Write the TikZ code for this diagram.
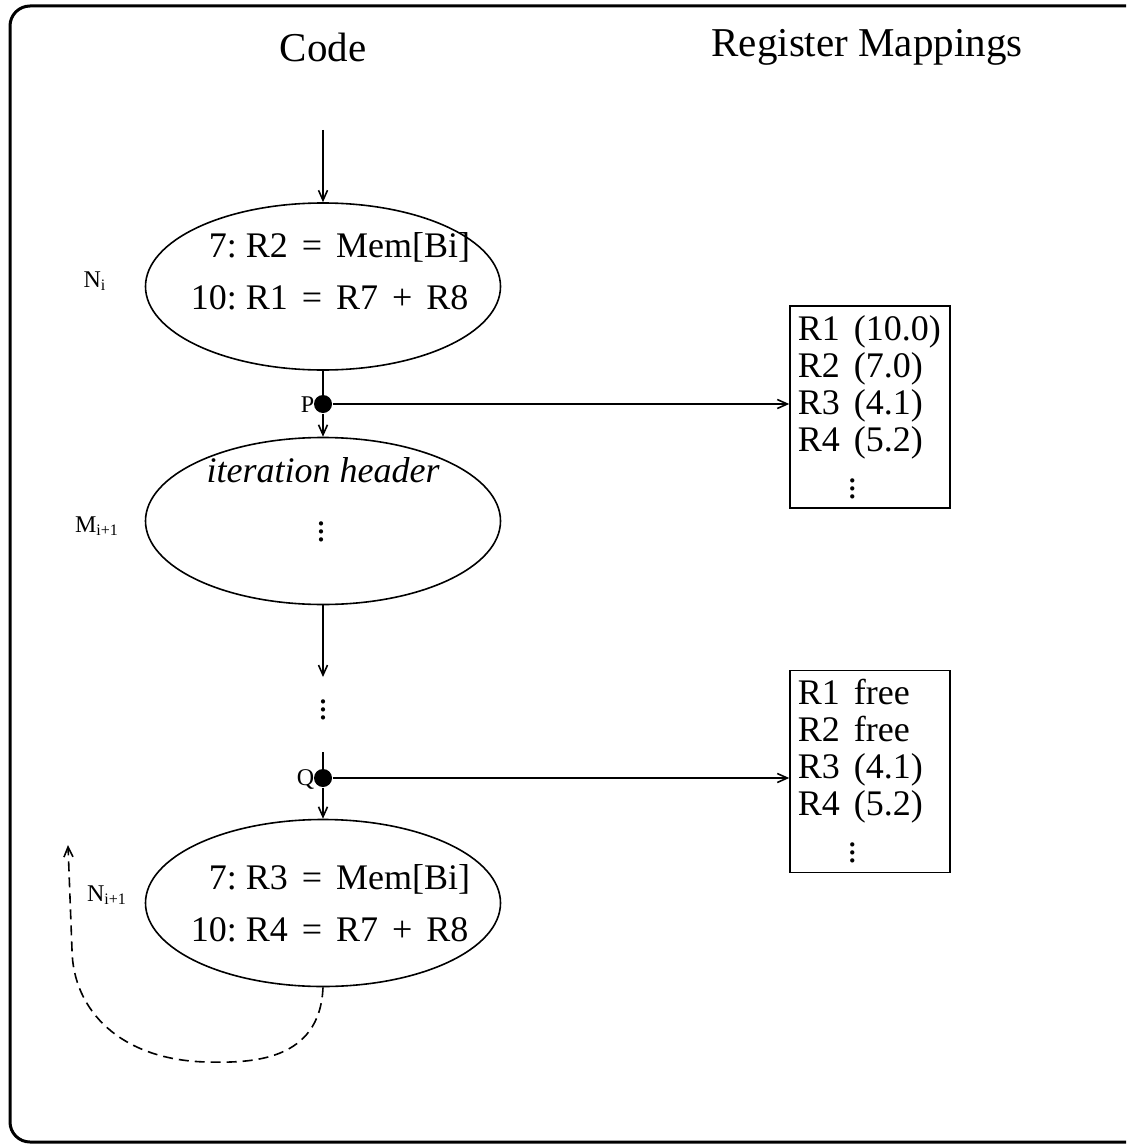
\documentclass[tikz,border=0pt]{standalone}
\usepackage{fontspec}
\setmainfont{Liberation Serif}
\usetikzlibrary{shapes.geometric,arrows.meta}
\newcommand{\op}[1]{\hspace{7pt}#1\hspace{7pt}}
\newcommand{\moredots}{\multicolumn{2}{@{}l@{}}{\hspace{25pt}$\vdots$}}
\begin{document}
\begin{tikzpicture}[x=0.5pt,y=-0.5pt,
  line width=0.8pt,
  arr/.style={-{Straight Barb[length=5pt,width=4.5pt]}},
  block/.style={draw,ellipse,minimum width=177.5pt,minimum height=83.5pt,inner sep=0pt},
  regbox/.style={draw,rectangle,minimum width=80pt,minimum height=101pt,inner sep=0pt},
  heading/.style={font=\fontsize{20.5}{24}\selectfont},
  codetxt/.style={anchor=west,inner sep=0pt,font=\fontsize{18}{26}\selectfont},
  regtxt/.style={anchor=north west,inner sep=0pt,font=\fontsize{18}{18.5}\selectfont},
  bigtxt/.style={inner sep=0pt,font=\fontsize{18}{22}\selectfont},
  tag/.style={inner sep=0pt,font=\fontsize{12}{14}\selectfont},
  pin/.style={circle,fill,minimum size=9pt,inner sep=0pt},
  loopback/.style={dashed,dash pattern=on 5pt off 3pt}
]
\useasboundingbox (0,0) rectangle (1126,1145);
\clip (0,0) rectangle (1126,1145);

% outer frame
\draw[line width=1.5pt,rounded corners=10pt] (10,6) rectangle (1150,1142);

% column headings
\node[heading] (hcode) at (323,47) {Code};
\node[heading] (hmap) at (867,47) {Register Mappings};

% code blocks
\node[block] (e1) at (323,286.5) {};
\node[block] (e2) at (323,521) {};
\node[block] (e3) at (323,903) {};

\node[codetxt] (c1) at (190,273) {\begin{tabular}{@{}r@{\ }l@{}}7: & R2\op{=}Mem[Bi]\\10: & R1\op{=}R7\op{+}R8\end{tabular}};
\node[codetxt] (c3) at (190,905) {\begin{tabular}{@{}r@{\ }l@{}}7: & R3\op{=}Mem[Bi]\\10: & R4\op{=}R7\op{+}R8\end{tabular}};
\node[bigtxt] (ih) at (323,470) {\itshape iteration header};
\node[bigtxt] (d2) at (321,526) {$\vdots$};
\node[bigtxt] (gap) at (323,704) {$\vdots$};

% block labels
\node[tag] (ni) at (95,281) {N\textsubscript{i}};
\node[tag] (mi) at (97,526) {M\textsubscript{i+1}};
\node[tag] (ni1) at (107,895) {N\textsubscript{i+1}};

% program points
\node[pin] (p) at (323,404) {};
\node[tag,anchor=east] (pl) at (315,405) {P};
\node[pin] (q) at (323,778) {};
\node[tag,anchor=east] (ql) at (315,779) {Q};

% register mapping tables
\node[regbox] (b1) at (870,407) {};
\node[regbox] (b2) at (870,771.5) {};
\node[regtxt] (t1) at (797,314) {\begin{tabular}{@{}l@{\hspace{7pt}}l@{}}R1 & (10.0)\\R2 & (7.0)\\R3 & (4.1)\\R4 & (5.2)\\[2pt]\moredots\end{tabular}};
\node[regtxt] (t2) at (797,678) {\begin{tabular}{@{}l@{\hspace{7pt}}l@{}}R1 & free\\R2 & free\\R3 & (4.1)\\R4 & (5.2)\\[2pt]\moredots\end{tabular}};

% control flow
\coordinate (entry) at (323,130);
\coordinate (gapin) at (323,677);
\coordinate (gapout) at (323,752);
\coordinate (back) at (68,845);
\draw[arr] (entry) -- (e1.north);
\draw (e1.south) -- (p.center);
\draw[arr] (p) -- (e2.north);
\draw[arr] (e2.south) -- (gapin);
\draw (gapout) -- (q.center);
\draw[arr] (q) -- (e3.north);

% mapping references
\draw[arr] (p) -- (p -| b1.west);
\draw[arr] (q) -- (q -| b2.west);

% loop back edge
\draw[loopback,arr] (e3.south) .. controls (320,1062) and (250,1063) .. (207,1062)
  .. controls (120,1060) and (73,1010) .. (72,950) -- (back);
\end{tikzpicture}
\end{document}
